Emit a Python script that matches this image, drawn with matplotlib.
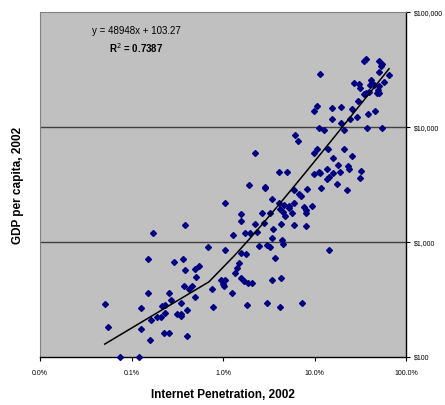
import numpy as np
import matplotlib
matplotlib.use('Agg')
import matplotlib.pyplot as plt
from matplotlib.ticker import FixedLocator, FuncFormatter, NullLocator

plt.rcParams['font.family'] = ['Liberation Sans', 'DejaVu Sans']

# internet penetration 2002 (% of population) and GDP per capita 2002 (US$)
pen = [0.17, 0.15, 0.15, 0.051, 0.127, 0.055, 0.127, 0.16, 0.075, 0.121, 0.163, 0.191, 0.21, 0.234, 0.217,
       0.232, 0.259, 0.226, 0.259, 1.29, 0.68, 1.05, 0.289, 0.363, 0.381, 0.494, 0.551, 0.511, 0.375, 0.422,
       0.458, 0.27, 0.35, 0.491, 0.754, 0.312, 0.348, 0.345, 0.407, 0.778, 0.401, 0.957, 1.06, 0.99, 1.03,
       1.26, 1.49, 1.41, 1.36, 1.91, 2.86, 1.06, 1.58, 1.56, 2.65, 2.22, 0.387, 1.74, 1.96, 2.37, 2.49, 1.57,
       1.78, 1.58, 1.70, 1.86, 2.06, 1.83, 9.8, 10.6, 14.2, 15.8, 18.1, 4.06, 5.0, 9.95, 11.1, 11.6, 13.7,
       16.1, 14.4, 13.6, 19.1, 17.5, 2.9, 6.0, 6.7, 7.06, 8.28, 11.9, 3.43, 4.12, 4.64, 5.31, 5.22, 6.0,
       4.23, 4.56, 4.8, 5.72, 7.74, 8.07, 8.13, 9.31, 3.29, 2.81, 4.3, 5.93, 8.13, 3.55, 3.43, 4.38, 4.56,
       3.05, 3.24, 14.3, 3.73, 4.34, 3.43, 3.05, 4.23, 7.24, 21.2, 25.5, 23.2, 24.0, 32.5, 31.7, 22.8, 11.5,
       35.0, 36.8, 50.7, 55.1, 53.3, 65.2, 51.1, 57.9, 26.8, 30.6, 31.4, 41.4, 42.8, 40.7, 45.1, 50.7, 49.1,
       36.8, 34.7, 39.7, 50.7, 47.9, 30.1, 10.6, 9.95, 15.4, 19.3, 25.9, 45.8, 38.1, 29.4, 24.6, 15.5, 19.3,
       11.1, 12.8, 21.0, 37.5, 55.1, 6.12, 6.55, 2.25]
gdp = [1200, 700, 360, 285, 263, 181, 173, 140, 100, 100, 209, 221, 221, 239, 277,
       281, 355, 160, 160, 1143, 904, 846, 665, 702, 563, 575, 614, 492, 409, 389,
       409, 309, 294, 330, 385, 233, 236, 227, 254, 271, 150, 466, 461, 428, 409,
       359, 648, 586, 530, 3115, 2975, 2158, 1742, 1514, 1787, 1416, 1397, 1183, 1183, 1206, 922, 792,
       776, 486, 455, 434, 439, 281, 5884, 6374, 6374, 5321, 4653, 4018, 4066, 3883, 4066, 3940, 4295,
       3948, 3680, 3514, 4083, 3178, 2951, 2818, 2602, 2500, 2858, 2951, 2353, 2184, 2086, 2057, 1964, 2158,
       1937, 1824, 1683, 1766, 1992, 1876, 1787, 2045, 1766, 1463, 1434, 1389, 1369, 1297, 1083, 1040, 948,
       929, 898, 846, 716, 486, 461, 292, 270, 294, 6412, 5606, 4588, 4295, 4150, 3564, 2818, 28680,
       37670, 39220, 37670, 35040, 33650, 28110, 30200, 24720, 24090, 23470, 21930, 25420, 24220, 23000, 23000, 22810, 21060,
       19710, 19200, 20110, 19830, 19590, 16680, 15100, 13820, 14590, 14800, 14300, 13650, 12940, 12250, 11630, 11700, 10800,
       9770, 9440, 9330, 9830, 9830, 8542, 7570, 5918]

# linear trendline shown in the chart
slope, intercept = 48948, 103.27
r2 = 0.7387

x = np.array(pen) / 100
y = np.array(gdp)
xfit = np.linspace(x.min(), x.max(), 101)
yfit = slope * xfit + intercept

fig = plt.figure(figsize=(4.45, 4.06), dpi=100)
ax = fig.add_axes([40/445, 48.5/406, 366/445, 344.5/406])
ax.set_facecolor('#c0c0c0')

ax.set_xscale('log')
ax.set_yscale('log')
ax.set_xlim(1e-4, 1)
ax.set_ylim(100, 100000)

for g in [1000, 10000]:
    ax.axhline(g, color='#404040', lw=1, zorder=1)

ax.plot(x, y, 'D', color='#000080', ms=3.0, mec='#000080', ls='none', clip_on=False, zorder=3)
ax.plot(xfit, yfit, color='black', lw=1.1, zorder=4)

ax.xaxis.set_major_locator(FixedLocator([1e-4, 1e-3, 1e-2, 1e-1, 1]))
ax.xaxis.set_minor_locator(NullLocator())
ax.xaxis.set_major_formatter(FuncFormatter(lambda v, p: '{:.1f}%'.format(v * 100)))
ax.yaxis.tick_right()
ax.yaxis.set_major_locator(FixedLocator([100, 1000, 10000, 100000]))
ax.yaxis.set_minor_locator(NullLocator())
ax.yaxis.set_major_formatter(FuncFormatter(lambda v, p: '${:,.0f}'.format(v)))
ax.tick_params(axis='x', length=3, width=0.8, pad=6, labelsize=5)
ax.tick_params(axis='y', length=3, width=0.8, pad=3, labelsize=5)

for s in ['top', 'left']:
    ax.spines[s].set_color('#808080')
    ax.spines[s].set_linewidth(0.8)
for s in ['bottom', 'right']:
    ax.spines[s].set_color('black')
    ax.spines[s].set_linewidth(1)

ax.text(0.262, 0.948, 'y = 48948x + 103.27', transform=ax.transAxes, ha='center', va='center', fontsize=7)
ax.text(0.262, 0.898, 'R$^2$ = {:.4f}'.format(r2), transform=ax.transAxes, ha='center', va='center',
        fontsize=7, fontweight='bold')

ax.set_xlabel('Internet Penetration, 2002', fontsize=8.5, fontweight='bold', labelpad=9)
fig.text(18/445, 1 - 185/406, 'GDP per capita, 2002', rotation=90, ha='center', va='center',
         fontsize=8.5, fontweight='bold')

fig.savefig('out.png', dpi=100)
